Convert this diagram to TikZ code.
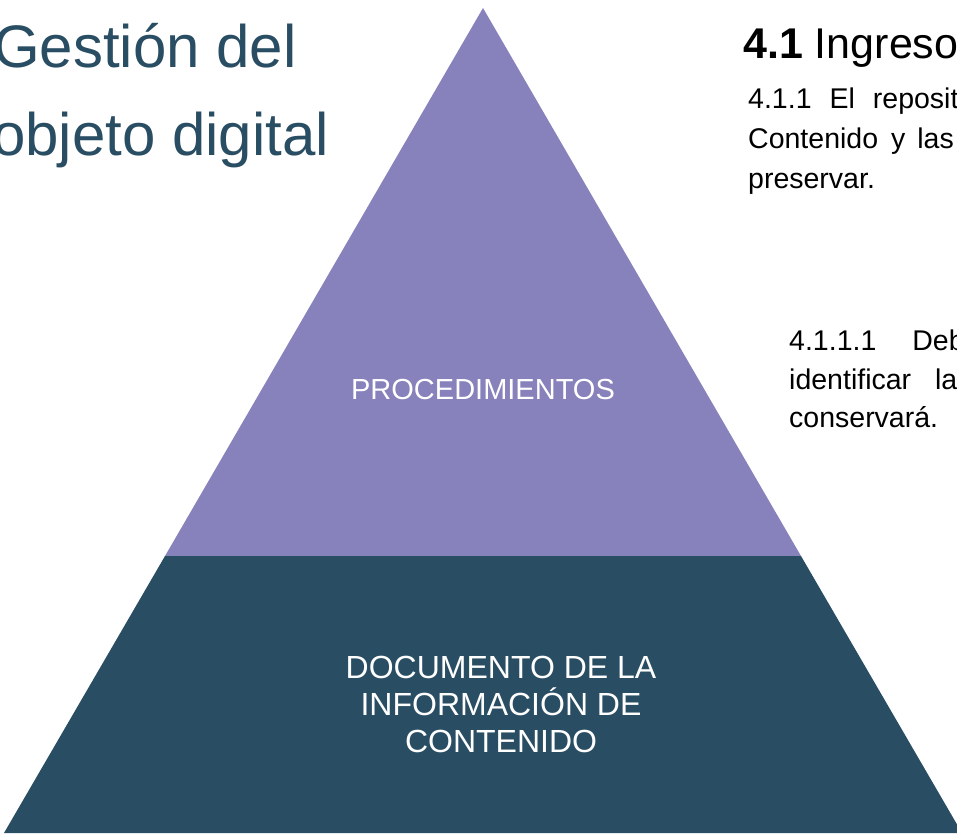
\documentclass[tikz,border=0pt]{standalone}
\usepackage{fontspec}
\setmainfont{Liberation Sans}
\usetikzlibrary{positioning}

\definecolor{lila}{HTML}{8781BC}
\definecolor{petrol}{HTML}{294D62}

\tikzset{
  titulo/.style={anchor=base west,inner sep=0pt,text=petrol,font=\fontsize{60pt}{72pt}\selectfont},
  cuerpo/.style={anchor=base west,inner sep=0pt,text=black,font=\fontsize{28.5pt}{34pt}\selectfont},
  etiqueta/.style={text=white,align=center,inner sep=0pt}
}

\begin{document}
\begin{tikzpicture}[x=1pt,y=-1pt]

            %\draw [help lines] (0,0) grid (957,833);
            \useasboundingbox (0,0) rectangle (957,833);
            \clip (0,0) rectangle (957,833);

            % piramide
            \fill[lila]   (483,8) -- (801,556) -- (165,556) -- cycle;
            \fill[petrol] (165,556) -- (801,556) -- (962,833) -- (4,833) -- cycle;

            \path   (483,390) node (proc) [etiqueta,font=\fontsize{29pt}{37pt}\selectfont] {PROCEDIMIENTOS}
                    (501,704) node (doc) [etiqueta,font=\fontsize{32pt}{37pt}\selectfont] {DOCUMENTO DE LA\\INFORMACIÓN DE\\CONTENIDO};

            % titulo izquierda
            \path   (-7,67)  node (tit1) [titulo] {Gestión del}
                    (-8,155) node (tit2) [titulo] {objeto digital};

            % texto derecha
            \path   (743,58) node (sec) [cuerpo,font=\fontsize{43pt}{50pt}\selectfont] {\textbf{4.1} Ingreso}
                    (748,108) node (p1a) [cuerpo] {4.1.1\hspace{18pt}El\hspace{18pt}reposit}
                    (748,148) node (p1b) [cuerpo] {Contenido\hspace{13pt}y\hspace{12pt}las}
                    (748,188) node (p1c) [cuerpo] {preservar.}
                    (789,350) node (p2a) [cuerpo] {4.1.1.1\hspace{36pt}Deb}
                    (789,389) node (p2b) [cuerpo] {identificar\hspace{24pt}la}
                    (789,427) node (p2c) [cuerpo] {conservará.};

\end{tikzpicture}
\end{document}
